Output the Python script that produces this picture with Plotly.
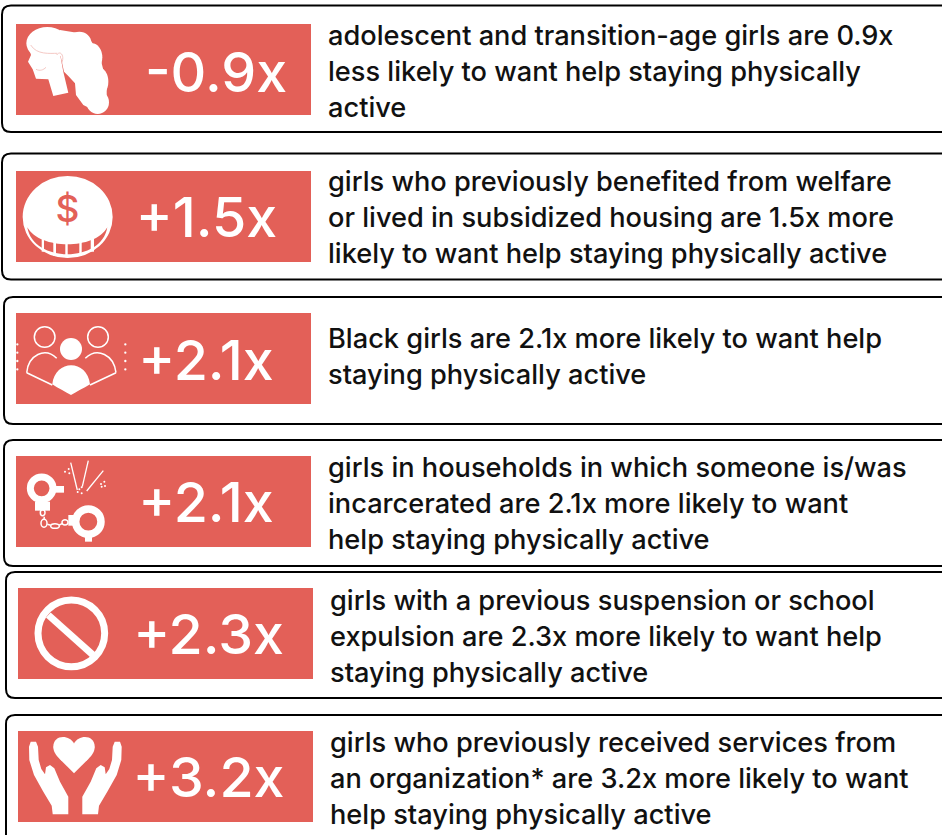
import plotly.graph_objects as go

multipliers = ["-0.9x", "+1.5x", "+2.1x", "+2.1x", "+2.3x", "+3.2x"]
descriptions = [
    ["adolescent and transition-age girls are 0.9x", "less likely to want help staying physically", "active"],
    ["girls who previously benefited from welfare", "or lived in subsidized housing are 1.5x more", "likely to want help staying physically active"],
    ["Black girls are 2.1x more likely to want help", "staying physically active"],
    ["girls in households in which someone is/was", "incarcerated are 2.1x more likely to want", "help staying physically active"],
    ["girls with a previous suspension or school", "expulsion are 2.3x more likely to want help", "staying physically active"],
    ["girls who previously received services from", "an organization* are 3.2x more likely to want", "help staying physically active"],
]

W, H = 942, 835
RED = "#E36058"
FONT = "Inter"
BIG_SIZE = 55.5
TEXT_SIZE = 27.2
NONE = "rgba(0,0,0,0)"

# layout: left, top, bottom of card; left, top of red panel; x of big label, y of big label; x of text, y of first line
cards = [
    (2, 5.5, 132, 16, 24, 216, 78, 328, 38),
    (2, 153.5, 279.5, 16, 171, 206.5, 223, 328, 184),
    (4, 297, 424, 16, 313, 206, 366, 328, 341),
    (4, 440, 566, 16, 456, 206, 508, 328, 470),
    (6, 572, 698, 18, 588, 208.5, 640, 330, 603),
    (6, 715, 850, 18, 731, 208.5, 783, 330, 745),
]

shapes = []


def card(left, top, bottom):
    r = 9
    right = W + 20
    shapes.append(dict(type="path", layer="below", line=dict(color="#000", width=2), fillcolor="#fff",
                       path=f"M{right},{top} L{left+r},{top} Q{left},{top} {left},{top+r} L{left},{bottom-r} "
                            f"Q{left},{bottom} {left+r},{bottom} L{right},{bottom}"))


def rect(x0, y0, x1, y1, color=RED):
    shapes.append(dict(type="rect", layer="below", x0=x0, y0=y0, x1=x1, y1=y1, fillcolor=color, line=dict(width=0)))


def ell(cx, cy, rx, ry, fill="#fff", line=None, width=0):
    shapes.append(dict(type="circle", layer="below", x0=cx-rx, x1=cx+rx, y0=cy-ry, y1=cy+ry,
                       fillcolor=fill, line=dict(color=line or NONE, width=width)))


def raw(path, fill="#fff", line=None, width=0):
    shapes.append(dict(type="path", layer="below", path=path, fillcolor=fill,
                       line=dict(color=line or NONE, width=width)))


class Icon:
    """Draws in 3x zoom coordinates, with an offset in page pixels."""
    def __init__(self, ox=0, oy=0):
        self.ox, self.oy = ox, oy

    def p(self, x, y):
        return self.ox + x / 3, self.oy + y / 3

    def s(self, x, y):
        return "%.1f,%.1f" % self.p(x, y)

    def circ(self, x, y, rx, ry=None, fill="#fff", line=None, width=0):
        px, py = self.p(x, y)
        ell(px, py, rx / 3, (ry if ry is not None else rx) / 3, fill, line, width)

    def rect(self, x0, y0, x1, y1, color="#fff"):
        a = self.p(x0, y0); b = self.p(x1, y1)
        rect(a[0], a[1], b[0], b[1], color)

    def line(self, pts, width=1.5, color="#fff"):
        raw("M" + " L".join(self.s(*q) for q in pts), NONE, color, width)

    def poly(self, pts, fill="#fff"):
        raw("M" + " L".join(self.s(*q) for q in pts) + " Z", fill)

    def cubic(self, start, segs, fill="#fff", close=True, line=None, width=0):
        d = "M" + self.s(*start)
        for a, b, c in segs:
            d += f" C{self.s(*a)} {self.s(*b)} {self.s(*c)}"
        raw(d + (" Z" if close else ""), fill, line, width)


for c in cards:
    card(c[0], c[1], c[2])
    rect(c[3], c[4], c[3] + 295, c[4] + 91)

# woman: hair built from overlapping blobs, then the face and neck
ic = Icon(0, 0)
ic.poly([(180, 90), (240, 100), (275, 125), (300, 170), (320, 250), (320, 310), (290, 335), (250, 315), (228, 285),
         (225, 250), (205, 228), (192, 215), (180, 160)])
for x, y, rx, ry in [(142, 130, 63, 49), (238, 128, 36, 33), (276, 172, 31, 42), (294, 245, 31, 44), (293, 307, 34, 35)]:
    ic.circ(x, y, rx, ry)
ic.poly([(84, 132), (180, 162), (190, 215), (205, 278), (160, 288), (145, 238), (108, 236), (98, 208), (84, 185), (93, 165)])
ic.cubic((92, 135), [((110, 165), (150, 160), (172, 160))], NONE, False, "#F5C9C5", 1)
ic.cubic((108, 208), [((120, 214), (130, 210), (138, 202))], NONE, False, "#F5C9C5", 1)
ic.cubic((170, 165), [((180, 150), (195, 165), (185, 190))], NONE, False, "#F5C9C5", 1)

# coin
ic = Icon(0, 0)
ic.circ(203, 651, 135, 123)
ic.cubic((82, 682), [((120, 750), (285, 750), (322, 682)), ((305, 790), (100, 790), (82, 682))], RED)
for x0, x1, y0, y1 in [(125, 132, 715, 755), (160, 168, 725, 768), (196, 203, 728, 772),
                       (238, 245, 725, 768), (272, 282, 712, 755)]:
    ic.poly([(x0, y0), (x1, y0), (x1, y1), (x0, y1)])

# people
ic = Icon(0, 290)
ic.circ(213, 177, 33)
ic.circ(134, 141, 31, fill=NONE, line="#fff", width=1.5)
ic.circ(294, 141, 31, fill=NONE, line="#fff", width=1.5)
ic.cubic((157, 283), [((165, 207), (262, 207), (270, 283)), ((250, 295), (230, 305), (213, 315)), ((195, 305), (175, 295), (157, 283))])
ic.line([(80, 248), (157, 285)])
ic.line([(348, 248), (270, 285)])
ic.cubic((80, 248), [((85, 195), (135, 170), (170, 205))], NONE, False, "#fff", 1.5)
ic.cubic((348, 248), [((342, 195), (292, 170), (256, 205))], NONE, False, "#fff", 1.5)
for x in (52, 376):
    for y in (163, 188, 213, 238):
        ic.circ(x, y, 3.5)

# handcuffs
ic = Icon(0, 290)
ic.circ(125, 595, 34, fill=NONE, line="#fff", width=7)
ic.rect(165, 588, 192, 608)
ic.rect(105, 635, 150, 662)
ic.circ(265, 695, 38, fill=NONE, line="#fff", width=7.5)
ic.rect(255, 735, 276, 755)
ic.rect(205, 675, 225, 707)
for x, y, rx, ry in [(128, 668, 7, 9), (132, 700, 9, 12), (165, 708, 13, 7), (195, 697, 9, 8)]:
    ic.circ(x, y, rx, ry, fill=NONE, line="#fff", width=1.5)
ic.line([(133, 680), (132, 690)], 1.5)
ic.line([(142, 703), (152, 706)], 1.5)
ic.line([(178, 705), (188, 700)], 1.5)
ic.line([(212, 518), (232, 600)], 1.3)
ic.line([(265, 512), (247, 590)], 1.3)
ic.line([(310, 542), (260, 603)], 1.3)
for x, y in [(195, 545), (206, 537), (208, 550), (238, 598), (245, 592), (233, 606), (245, 610),
             (303, 582), (313, 575), (315, 588), (305, 590)]:
    ic.circ(x, y, 3)

# no symbol
ic = Icon(0, 565)
ic.circ(214, 205, 100, fill=NONE, line="#fff", width=7)
ic.line([(145, 150), (281, 272)], 7)

# hands and heart
ic = Icon(0, 565)
ic.cubic((222, 535), [((208, 508), (160, 508), (160, 545)), ((160, 563), (172, 575), (185, 588))], close=False)
ic.poly([(160, 545), (185, 588), (222, 625), (259, 588), (284, 545), (222, 535)])
ic.cubic((222, 535), [((236, 508), (284, 508), (284, 545)), ((284, 563), (272, 575), (259, 588))], close=False)
left_hand = [(87, 545), (92, 530), (108, 530), (114, 545), (116, 585), (124, 612), (135, 628), (138, 607), (150, 600),
             (163, 610), (180, 650), (205, 695), (205, 748), (158, 748), (155, 722), (130, 680), (102, 630), (88, 585)]
for mirror in (False, True):
    ic.poly([((452 - x) if mirror else x, y) for x, y in left_hand])

fig = go.Figure()

big_x = [c[5] for c in cards]
big_y = [c[6] for c in cards]
fig.add_trace(go.Scatter(x=big_x, y=big_y, text=multipliers, mode="text", textposition="middle center",
                         textfont=dict(family=FONT, size=BIG_SIZE, color="#fff", weight=500), hoverinfo="skip", showlegend=False))

line_x, line_y, line_t = [], [], []
for c, lines in zip(cards, descriptions):
    for i, t in enumerate(lines):
        line_x.append(c[7]); line_y.append(c[8] + 36 * i); line_t.append(t)
fig.add_trace(go.Scatter(x=line_x, y=line_y, text=line_t, mode="text", textposition="middle right",
                         textfont=dict(family=FONT, size=TEXT_SIZE, color="#111", weight=500), hoverinfo="skip", showlegend=False))

fig.add_trace(go.Scatter(x=[67.5], y=[213], text=["$"], mode="text", textposition="middle center",
                         textfont=dict(family=FONT, size=37, color=RED, weight=500), hoverinfo="skip", showlegend=False))

fig.update_layout(width=W, height=H, margin=dict(l=0, r=0, t=0, b=0), paper_bgcolor="#fff", plot_bgcolor="#fff",
                  shapes=shapes,
                  xaxis=dict(range=[0, W], visible=False, fixedrange=True),
                  yaxis=dict(range=[H, 0], visible=False, fixedrange=True))
fig.write_html("out.html", config={"displayModeBar": False},
               post_script="document.body.style.margin='0';document.documentElement.style.overflow='hidden';")
